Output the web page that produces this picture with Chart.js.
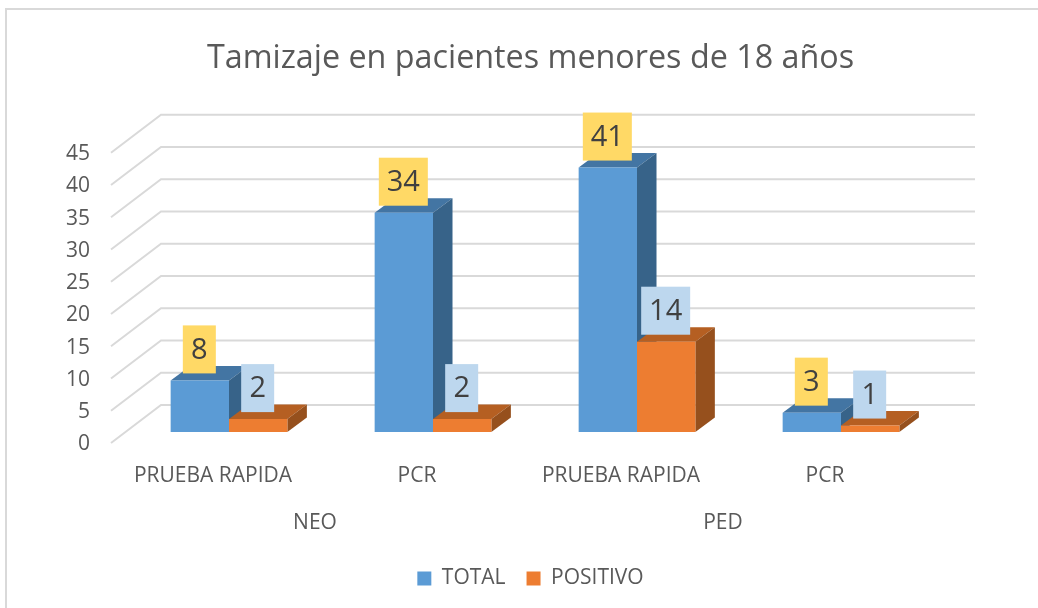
<!DOCTYPE html>
<html>
<head>
<meta charset="utf-8">
<style>
html,body{margin:0;padding:0;background:#fff}
#wrap{width:1038px;height:608px;position:relative}
</style>
<script src="https://cdn.jsdelivr.net/npm/chart.js@4"></script>
</head>
<body>
<div id="wrap"><canvas id="c" width="1038" height="608"></canvas></div>
<script>
const categories = ["PRUEBA RAPIDA", "PCR", "PRUEBA RAPIDA", "PCR"];
const groups = ["NEO", "PED"];
const totalValues = [8, 34, 41, 3];
const positiveValues = [2, 2, 14, 1];
const titleText = "Tamizaje en pacientes menores de 18 años";

const FONT = '"Open Sans", sans-serif';
const GRID = '#d9d9d9', TEXT = '#595959';
const FACES = [
  {front:'#5B9BD5', top:'#4375A3', side:'#376389', label:'#FFD966'},
  {front:'#ED7D31', top:'#B55F22', side:'#96501D', label:'#BDD7EE'}
];
const BAR_DX = 19.5, BAR_DY = 14.5;

const depth3d = {
  id:'depth3d',
  beforeDatasetsDraw(chart){
    const ctx = chart.ctx, y = chart.scales.y;
    ctx.save();
    ctx.strokeStyle = GRID; ctx.lineWidth = 2;
    ctx.beginPath(); ctx.moveTo(6,608); ctx.lineTo(6,9); ctx.lineTo(1038,9); ctx.stroke();
    ctx.lineWidth = 2; ctx.strokeStyle = GRID;
    y.ticks.forEach(t=>{
      const py = y.getPixelForValue(t.value);
      ctx.beginPath();
      ctx.moveTo(111, py + 11);
      ctx.lineTo(161, py - 27);
      ctx.lineTo(975, py - 27);
      ctx.stroke();
    });
    [0,1].forEach(di=>{
      chart.getDatasetMeta(di).data.forEach(b=>{
        const p = b.getProps(['x','y','base','width'], true);
        const l = p.x - p.width/2, r = p.x + p.width/2;
        ctx.fillStyle = FACES[di].top;
        ctx.beginPath();
        ctx.moveTo(l,p.y); ctx.lineTo(l+BAR_DX,p.y-BAR_DY); ctx.lineTo(r+BAR_DX,p.y-BAR_DY); ctx.lineTo(r,p.y);
        ctx.closePath(); ctx.fill();
        ctx.fillStyle = FACES[di].side;
        ctx.beginPath();
        ctx.moveTo(r,p.y); ctx.lineTo(r+BAR_DX,p.y-BAR_DY); ctx.lineTo(r+BAR_DX,p.base-BAR_DY); ctx.lineTo(r,p.base);
        ctx.closePath(); ctx.fill();
      });
    });
    ctx.restore();
  },
  afterDatasetsDraw(chart){
    const ctx = chart.ctx;
    ctx.save();
    ctx.font = '29px ' + FONT;
    ctx.textAlign = 'center'; ctx.textBaseline = 'middle';
    [0,1].forEach(di=>{
      chart.getDatasetMeta(di).data.forEach((b,i)=>{
        const p = b.getProps(['x','y'], true);
        const txt = String(chart.data.datasets[di].data[i]);
        const w = txt.length > 1 ? 49 : 33, h = 48;
        const cx = p.x - 0.5, bottom = p.y - 7;
        ctx.fillStyle = FACES[di].label;
        ctx.fillRect(cx - w/2, bottom - h, w, h);
        ctx.fillStyle = '#404040';
        ctx.fillText(txt, cx, bottom - h/2 + 1);
      });
    });
    ctx.restore();
  }
};

new Chart(document.getElementById('c'), {
  type:'bar',
  data:{
    labels:categories,
    datasets:[
      {label:'TOTAL', data:totalValues, backgroundColor:FACES[0].front, xAxisID:'x', yAxisID:'y'},
      {label:'POSITIVO', data:positiveValues, backgroundColor:FACES[1].front, xAxisID:'x', yAxisID:'y'}
    ]
  },
  options:{
    responsive:false, animation:false,
    layout:{padding:{left:23,right:0,top:0,bottom:9}},
    datasets:{bar:{barPercentage:1, categoryPercentage:0.572}},
    plugins:{
      title:{display:true, text:titleText, color:TEXT,
        font:{family:FONT, size:32.3, weight:'normal'}, padding:{top:39,bottom:64}},
      legend:{position:'bottom',
        labels:{boxWidth:14, boxHeight:14, color:TEXT, padding:21, font:{family:FONT,size:21}}},
      tooltip:{enabled:false}
    },
    scales:{
      x:{position:'bottom', grid:{display:false, drawTicks:false}, border:{display:false},
        afterFit(s){s.height = 55;},
        ticks:{color:TEXT, font:{family:FONT,size:21}, labelOffset:-16, padding:31, maxRotation:0, autoSkip:false}},
      x2:{type:'category', labels:groups, position:'bottom', grid:{display:false, drawTicks:false}, border:{display:false},
        afterFit(s){s.height = 60;},
        ticks:{color:TEXT, font:{family:FONT,size:21}, labelOffset:-16, padding:23, maxRotation:0}},
      y:{min:0, max:45, grid:{display:false, drawTicks:false}, border:{display:false},
        afterFit(s){s.width = 104;},
        ticks:{stepSize:5, color:TEXT, font:{family:FONT,size:21}, labelOffset:12.5, padding:37}},
      yR:{position:'right', min:0, max:1, grid:{display:false, drawTicks:false}, border:{display:false},
        afterFit(s){s.width = 95;}, ticks:{display:false}}
    }
  },
  plugins:[depth3d]
});
</script>
</body>
</html>
